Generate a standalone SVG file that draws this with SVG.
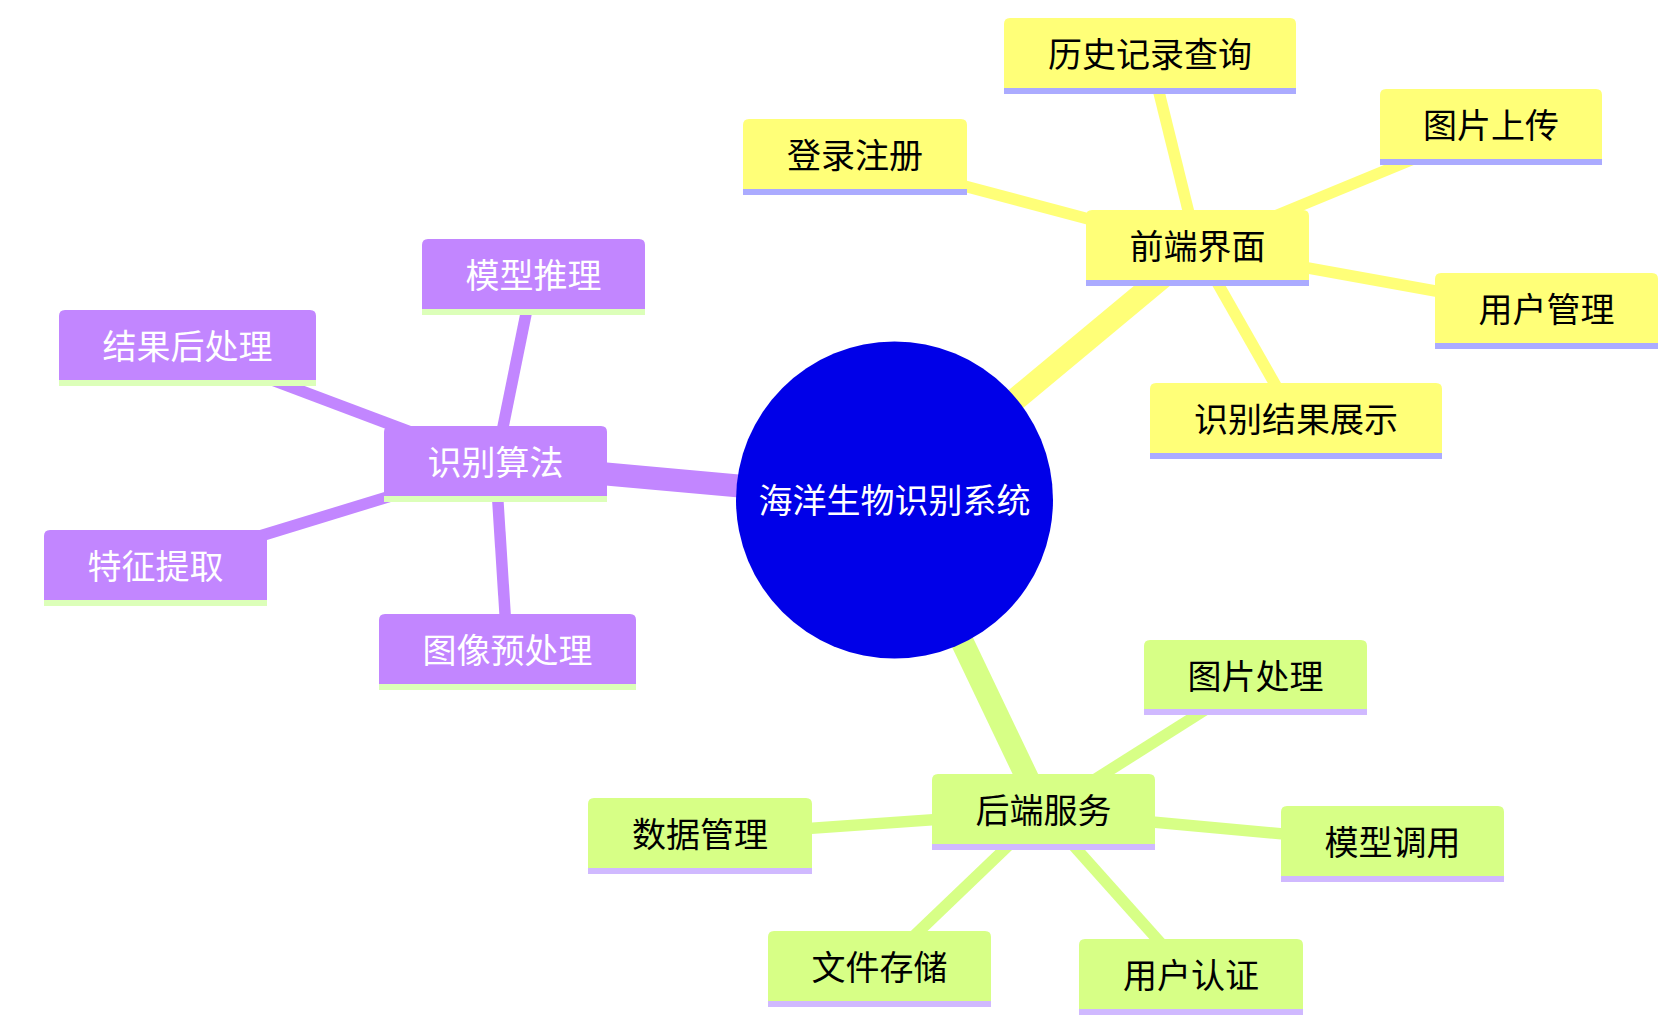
<svg xmlns="http://www.w3.org/2000/svg" width="1674" height="1030" viewBox="0 0 1674 1030">
<style>
text { font-family: "Noto Sans CJK SC", "Noto Sans", sans-serif; font-size: 34px; text-anchor: middle; dominant-baseline: central; }
.e0 { stroke-width: 23; fill: none; stroke-linecap: butt; }
.e1 { stroke-width: 11.5; fill: none; stroke-linecap: butt; }
.s0 { fill: #ffff78; }
.s1 { fill: #d7ff86; }
.s2 { fill: #c286ff; }
.l0 { stroke: #ffff78; }
.l1 { stroke: #d7ff86; }
.l2 { stroke: #c286ff; }
.b0 { fill: #ababff; }
.b1 { fill: #d0b9ff; }
.b2 { fill: #dcffb9; }
.t0, .t1 { fill: #000000; }
.t2 { fill: #ffffff; }
</style>
<g id="connectors">
<line class="e0 l0" x1="894.5" y1="500" x2="1197.5" y2="248"/>
<line class="e0 l2" x1="894.5" y1="500" x2="495.5" y2="464"/>
<line class="e0 l1" x1="894.5" y1="500" x2="1043.5" y2="812"/>
<line class="e1 l0" x1="1197.5" y1="248" x2="1150" y2="56"/>
<line class="e1 l0" x1="1197.5" y1="248" x2="855" y2="157"/>
<line class="e1 l0" x1="1197.5" y1="248" x2="1491" y2="127"/>
<line class="e1 l0" x1="1197.5" y1="248" x2="1546.5" y2="311"/>
<line class="e1 l0" x1="1197.5" y1="248" x2="1296" y2="421"/>
<line class="e1 l2" x1="495.5" y1="464" x2="533.5" y2="277"/>
<line class="e1 l2" x1="495.5" y1="464" x2="187.5" y2="348"/>
<line class="e1 l2" x1="495.5" y1="464" x2="155.5" y2="568"/>
<line class="e1 l2" x1="495.5" y1="464" x2="507.5" y2="652"/>
<line class="e1 l1" x1="1043.5" y1="812" x2="1255.5" y2="678"/>
<line class="e1 l1" x1="1043.5" y1="812" x2="700" y2="836"/>
<line class="e1 l1" x1="1043.5" y1="812" x2="1392.5" y2="844"/>
<line class="e1 l1" x1="1043.5" y1="812" x2="879.5" y2="969"/>
<line class="e1 l1" x1="1043.5" y1="812" x2="1191" y2="977"/>
</g>
<g id="root">
<circle cx="894.5" cy="500" r="158.5" fill="#0000e8"/>
<text x="894.5" y="498" fill="#ffffff">海洋生物识别系统</text>
</g>
<g id="n-frontend">
<path class="s0" d="M1086 280 V216 Q1086 210 1092 210 H1303 Q1309 210 1309 216 V280 Z"/>
<rect class="b0" x="1086" y="280" width="223" height="6"/>
<text class="t0" x="1197.5" y="244">前端界面</text>
</g>
<g id="n-history">
<path class="s0" d="M1004 88 V24 Q1004 18 1010 18 H1290 Q1296 18 1296 24 V88 Z"/>
<rect class="b0" x="1004" y="88" width="292" height="6"/>
<text class="t0" x="1150" y="52">历史记录查询</text>
</g>
<g id="n-login">
<path class="s0" d="M743 189 V125 Q743 119 749 119 H961 Q967 119 967 125 V189 Z"/>
<rect class="b0" x="743" y="189" width="224" height="6"/>
<text class="t0" x="855" y="153">登录注册</text>
</g>
<g id="n-upload">
<path class="s0" d="M1380 159 V95 Q1380 89 1386 89 H1596 Q1602 89 1602 95 V159 Z"/>
<rect class="b0" x="1380" y="159" width="222" height="6"/>
<text class="t0" x="1491" y="123">图片上传</text>
</g>
<g id="n-usermgmt">
<path class="s0" d="M1435 343 V279 Q1435 273 1441 273 H1652 Q1658 273 1658 279 V343 Z"/>
<rect class="b0" x="1435" y="343" width="223" height="6"/>
<text class="t0" x="1546.5" y="307">用户管理</text>
</g>
<g id="n-result">
<path class="s0" d="M1150 453 V389 Q1150 383 1156 383 H1436 Q1442 383 1442 389 V453 Z"/>
<rect class="b0" x="1150" y="453" width="292" height="6"/>
<text class="t0" x="1296" y="417">识别结果展示</text>
</g>
<g id="n-algo">
<path class="s2" d="M384 496 V432 Q384 426 390 426 H601 Q607 426 607 432 V496 Z"/>
<rect class="b2" x="384" y="496" width="223" height="6"/>
<text class="t2" x="495.5" y="460">识别算法</text>
</g>
<g id="n-infer">
<path class="s2" d="M422 309 V245 Q422 239 428 239 H639 Q645 239 645 245 V309 Z"/>
<rect class="b2" x="422" y="309" width="223" height="6"/>
<text class="t2" x="533.5" y="273">模型推理</text>
</g>
<g id="n-post">
<path class="s2" d="M59 380 V316 Q59 310 65 310 H310 Q316 310 316 316 V380 Z"/>
<rect class="b2" x="59" y="380" width="257" height="6"/>
<text class="t2" x="187.5" y="344">结果后处理</text>
</g>
<g id="n-feature">
<path class="s2" d="M44 600 V536 Q44 530 50 530 H261 Q267 530 267 536 V600 Z"/>
<rect class="b2" x="44" y="600" width="223" height="6"/>
<text class="t2" x="155.5" y="564">特征提取</text>
</g>
<g id="n-preproc">
<path class="s2" d="M379 684 V620 Q379 614 385 614 H630 Q636 614 636 620 V684 Z"/>
<rect class="b2" x="379" y="684" width="257" height="6"/>
<text class="t2" x="507.5" y="648">图像预处理</text>
</g>
<g id="n-backend">
<path class="s1" d="M932 844 V780 Q932 774 938 774 H1149 Q1155 774 1155 780 V844 Z"/>
<rect class="b1" x="932" y="844" width="223" height="6"/>
<text class="t1" x="1043.5" y="808">后端服务</text>
</g>
<g id="n-imgproc">
<path class="s1" d="M1144 709 V646 Q1144 640 1150 640 H1361 Q1367 640 1367 646 V709 Z"/>
<rect class="b1" x="1144" y="709" width="223" height="6"/>
<text class="t1" x="1255.5" y="674">图片处理</text>
</g>
<g id="n-data">
<path class="s1" d="M588 868 V804 Q588 798 594 798 H806 Q812 798 812 804 V868 Z"/>
<rect class="b1" x="588" y="868" width="224" height="6"/>
<text class="t1" x="700" y="832">数据管理</text>
</g>
<g id="n-model">
<path class="s1" d="M1281 876 V812 Q1281 806 1287 806 H1498 Q1504 806 1504 812 V876 Z"/>
<rect class="b1" x="1281" y="876" width="223" height="6"/>
<text class="t1" x="1392.5" y="840">模型调用</text>
</g>
<g id="n-file">
<path class="s1" d="M768 1001 V937 Q768 931 774 931 H985 Q991 931 991 937 V1001 Z"/>
<rect class="b1" x="768" y="1001" width="223" height="6"/>
<text class="t1" x="879.5" y="965">文件存储</text>
</g>
<g id="n-auth">
<path class="s1" d="M1079 1009 V945 Q1079 939 1085 939 H1297 Q1303 939 1303 945 V1009 Z"/>
<rect class="b1" x="1079" y="1009" width="224" height="6"/>
<text class="t1" x="1191" y="973">用户认证</text>
</g>
</svg>
